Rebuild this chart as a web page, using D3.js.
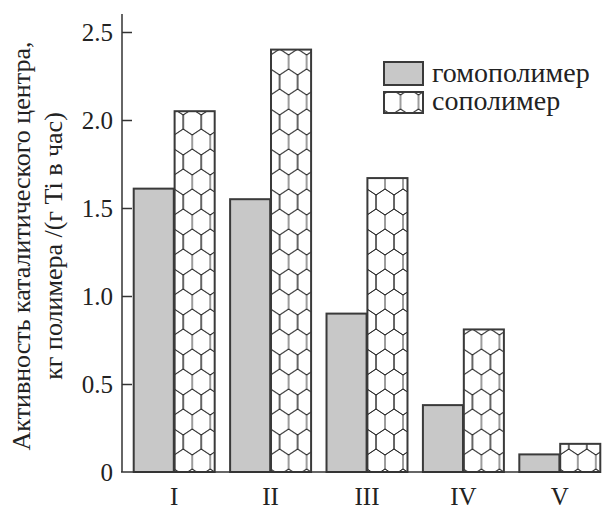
<!DOCTYPE html>
<html>
<head>
<meta charset="utf-8">
<script src="https://cdn.jsdelivr.net/npm/d3@7"></script>
<style>
  body { margin: 0; background: #fff; }
  svg { display: block; }
</style>
</head>
<body>
<script>
var categories = ["I", "II", "III", "IV", "V"];
var homoValues = [1.61, 1.55, 0.90, 0.38, 0.10];
var coValues = [2.05, 2.40, 1.67, 0.81, 0.16];
var yTicks = [0, 0.5, 1.0, 1.5, 2.0, 2.5];
var seriesNames = ["гомополимер", "сополимер"];

var width = 604, height = 506;
var serif = "Liberation Serif";

var svg = d3.select("body").append("svg")
  .attr("width", width).attr("height", height)
  .attr("font-family", serif);

// honeycomb pattern for the copolymer bars
var defs = svg.append("defs");
var pat = defs.append("pattern")
  .attr("id", "honey")
  .attr("patternUnits", "userSpaceOnUse")
  .attr("width", 18).attr("height", 40)
  .attr("x", 4.5).attr("y", 2);
pat.append("rect").attr("width", 18).attr("height", 40).attr("fill", "#fff");
function hex(cx, cy) {
  return "M" + cx + "," + (cy - 13) + "L" + (cx + 9) + "," + (cy - 7) + "L" + (cx + 9) + "," + (cy + 7) +
    "L" + cx + "," + (cy + 13) + "L" + (cx - 9) + "," + (cy + 7) + "L" + (cx - 9) + "," + (cy - 7) + "Z";
}
var hp = "";
[[9, 20], [0, 0], [18, 0], [0, 40], [18, 40]].forEach(function(c) { hp += hex(c[0], c[1]); });
pat.append("path").attr("d", hp).attr("fill", "none").attr("stroke", "#222").attr("stroke-width", 0.9);

var y = d3.scaleLinear().domain([0, 2.5]).range([472, 32]);
var x0 = d3.scaleBand().domain(categories).range([126, 608]).paddingInner(0.16).paddingOuter(0.08);
var x1 = d3.scaleBand().domain(["homo", "co"]).range([0, x0.bandwidth()]).paddingInner(0.02);

// axes
var yAxis = d3.axisLeft(y).tickValues(yTicks).tickSizeInner(-10).tickSizeOuter(0).tickPadding(9)
  .tickFormat(function(d) { return d === 0 ? "0" : d3.format(".1f")(d); });
var gy = svg.append("g").attr("transform", "translate(122,0)").call(yAxis)
  .attr("font-family", serif).attr("font-size", 25);
gy.select(".domain").remove();
gy.selectAll(".tick line").attr("stroke", "#333").attr("stroke-width", 1.5)
  .filter(function(d) { return d === 0; }).remove();
gy.selectAll(".tick text").attr("fill", "#222");

var xAxis = d3.axisBottom(x0).tickSize(0).tickPadding(15);
var gx = svg.append("g").attr("transform", "translate(0,472)").call(xAxis)
  .attr("font-family", serif).attr("font-size", 25);
gx.select(".domain").remove();
gx.selectAll(".tick text").attr("fill", "#222");

// bars
var groups = svg.append("g").selectAll("g")
  .data(categories)
  .enter().append("g")
  .attr("transform", function(d) { return "translate(" + x0(d) + ",0)"; });

groups.append("rect")
  .attr("x", x1("homo"))
  .attr("y", function(d, i) { return y(homoValues[i]); })
  .attr("width", x1.bandwidth())
  .attr("height", function(d, i) { return y(0) - y(homoValues[i]); })
  .attr("fill", "#c8c8c8").attr("stroke", "#3a3a3a").attr("stroke-width", 2);

groups.append("rect")
  .attr("x", x1("co"))
  .attr("y", function(d, i) { return y(coValues[i]); })
  .attr("width", x1.bandwidth())
  .attr("height", function(d, i) { return y(0) - y(coValues[i]); })
  .attr("fill", "url(#honey)").attr("stroke", "#3a3a3a").attr("stroke-width", 2);

// axis lines on top
svg.append("line").attr("x1", 122).attr("x2", 122).attr("y1", 14).attr("y2", 472)
  .attr("stroke", "#333").attr("stroke-width", 1.5);
svg.append("line").attr("x1", 121).attr("x2", 601).attr("y1", 472).attr("y2", 472)
  .attr("stroke", "#333").attr("stroke-width", 1.5);

// legend
var legend = svg.append("g");
var fills = ["#c8c8c8", "url(#honey)"];
seriesNames.forEach(function(name, i) {
  legend.append("rect")
    .attr("x", 384).attr("y", 62 + i * 30)
    .attr("width", 39).attr("height", i === 0 ? 23 : 21)
    .attr("fill", fills[i]).attr("stroke", "#3a3a3a").attr("stroke-width", 2);
  legend.append("text")
    .attr("x", 432).attr("y", 82 + i * 28)
    .attr("font-size", 28).attr("fill", "#222")
    .text(name);
});

// y label
var yl = svg.append("text")
  .attr("transform", "translate(0,246) rotate(-90)")
  .attr("text-anchor", "middle")
  .attr("font-size", 26).attr("fill", "#222");
yl.append("tspan").attr("x", 0).attr("y", 30).text("Активность каталитического центра,");
yl.append("tspan").attr("x", 0).attr("y", 62).text("кг полимера /(г Ti в час)");
</script>
</body>
</html>
